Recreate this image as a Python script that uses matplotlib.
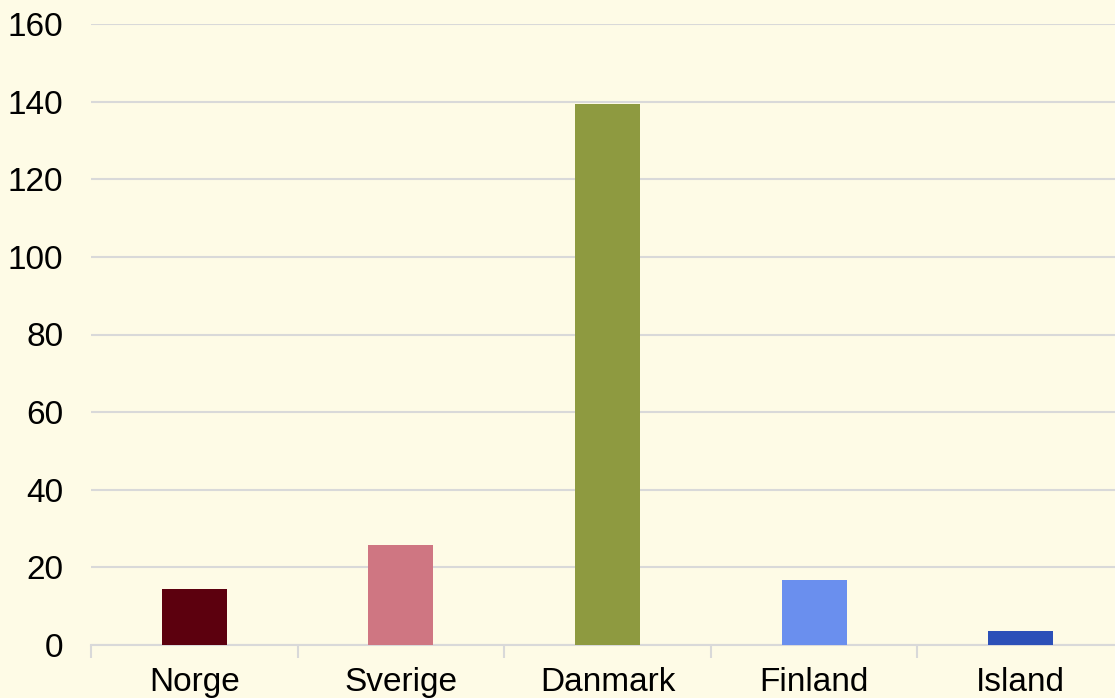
import matplotlib

matplotlib.use("Agg")
import matplotlib.pyplot as plt  # noqa: E402
import numpy as np  # noqa: E402

COUNTRIES = ["Norge", "Sverige", "Danmark", "Finland", "Island"]
VALUES = [14.4, 25.8, 139.4, 16.8, 3.6]
COLORS = ["#5c000e", "#cf7682", "#8e9a40", "#6a8fee", "#2c50b8"]
YTICKS = [0, 20, 40, 60, 80, 100, 120, 140, 160]

BG = "#fefbe6"
GRID = "#d9d9d9"

plt.rcParams["font.family"] = ["Liberation Sans", "DejaVu Sans"]

fig = plt.figure(figsize=(11.15, 6.98), dpi=100, facecolor=BG)
ax = fig.add_axes([91 / 1115, 53 / 698, 1033 / 1115, 621 / 698])
ax.set_facecolor(BG)

x = np.arange(len(COUNTRIES))
ax.bar(x, VALUES, width=0.315, color=COLORS, zorder=3)

ax.set_xlim(-0.5, len(COUNTRIES) - 0.5)
ax.set_ylim(0, 160)
ax.set_yticks(YTICKS)
ax.yaxis.grid(True, color=GRID, lw=1.5, zorder=0)
ax.tick_params(axis="y", length=0, labelsize=24, pad=20)

ax.set_xticks(x)
ax.set_xticklabels(COUNTRIES)
ax.tick_params(axis="x", length=0, labelsize=24, pad=16)
ax.set_xticks(np.arange(len(COUNTRIES) + 1) - 0.5, minor=True)
ax.tick_params(axis="x", which="minor", length=9, width=1.5, color=GRID)

for side in ("top", "right", "left"):
    ax.spines[side].set_visible(False)
ax.spines["bottom"].set_color(GRID)
ax.spines["bottom"].set_linewidth(1.5)

fig.savefig("out.png", dpi=100, facecolor=BG)
